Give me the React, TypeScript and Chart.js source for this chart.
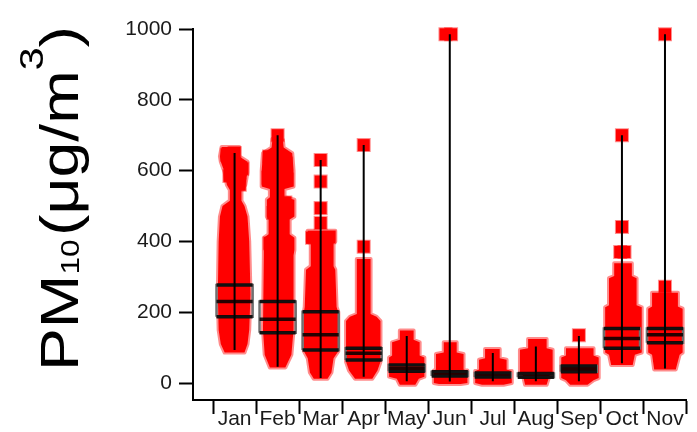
import { useEffect, useRef } from 'react';
import { Chart, registerables } from 'chart.js';

Chart.register(...registerables);

// ---- data -------------------------------------------------------------
const months = ['Jan', 'Feb', 'Mar', 'Apr', 'May', 'Jun', 'Jul', 'Aug', 'Sep', 'Oct', 'Nov'];
const yTicks = [0, 200, 400, 600, 800, 1000];

// whisker ends (µg/m³)
const whiskerLow = [93, 46, 14, 18, 5, 4, 5, 5, 5, 56, 41];
const whiskerHigh = [650, 700, 630, 672, 133, 985, 85, 103, 133, 700, 985];

// box statistics (µg/m³)
const q1 = [187, 142, 93, 65, 33, 20, 17, 16, 32, 98, 114];
const medians = [230, 180, 136, 84, 40, 25, 22, 21, 40, 126, 136];
const q3 = [277, 230, 201, 98, 51, 32, 28, 27, 48, 154, 154];

// outline of each month's jittered hourly points: [value, spread left, spread right]
// spreads are in category units (1 = one month slot)
const clouds: number[][][] = [
  [[667, 0.3, 0.11], [640, 0.34, 0.11], [625, 0.32, 0.3], [595, 0.23, 0.3], [560, 0.18, 0.25], [545, 0.11, 0.16], [515, 0.11, 0.16], [500, 0.28, 0.23], [470, 0.34, 0.3], [400, 0.37, 0.34], [250, 0.39, 0.37], [150, 0.37, 0.34], [110, 0.32, 0.3], [86, 0.23, 0.23]],
  [[690, 0.12, 0.12], [665, 0.14, 0.14], [649, 0.34, 0.34], [600, 0.37, 0.37], [555, 0.37, 0.37], [548, 0.18, 0.16], [525, 0.18, 0.16], [518, 0.25, 0.39], [470, 0.25, 0.39], [462, 0.21, 0.28], [420, 0.21, 0.28], [410, 0.32, 0.39], [376, 0.32, 0.39], [360, 0.32, 0.37], [150, 0.34, 0.37], [80, 0.3, 0.32], [44, 0.18, 0.18]],
  [[430, 0.3, 0.34], [400, 0.3, 0.34], [394, 0.23, 0.3], [330, 0.23, 0.3], [320, 0.34, 0.34], [215, 0.37, 0.37], [200, 0.39, 0.41], [90, 0.39, 0.41], [70, 0.3, 0.3], [30, 0.25, 0.25], [12, 0.16, 0.16]],
  [[350, 0.16, 0.16], [195, 0.16, 0.16], [187, 0.32, 0.3], [175, 0.41, 0.39], [60, 0.41, 0.39], [35, 0.34, 0.32], [12, 0.2, 0.2]],
  [[148, 0.16, 0.16], [122, 0.16, 0.16], [115, 0.34, 0.3], [78, 0.34, 0.3], [72, 0.41, 0.41], [18, 0.41, 0.41], [12, 0.23, 0.28], [-5, 0.16, 0.2]],
  [[115, 0.14, 0.16], [86, 0.14, 0.16], [82, 0.32, 0.32], [38, 0.32, 0.32], [35, 0.37, 0.41], [0, 0.37, 0.41], [-3, 0.25, 0.25]],
  [[96, 0.18, 0.16], [70, 0.18, 0.16], [66, 0.32, 0.32], [38, 0.32, 0.32], [34, 0.41, 0.44], [0, 0.41, 0.44], [-5, 0.25, 0.25]],
  [[124, 0.18, 0.25], [98, 0.18, 0.25], [94, 0.37, 0.39], [28, 0.37, 0.39], [22, 0.3, 0.32], [-5, 0.25, 0.25]],
  [[98, 0.3, 0.34], [78, 0.3, 0.34], [72, 0.41, 0.46], [14, 0.41, 0.46], [8, 0.3, 0.34], [-5, 0.2, 0.2]],
  [[338, 0.18, 0.23], [302, 0.18, 0.23], [296, 0.3, 0.34], [220, 0.3, 0.34], [214, 0.39, 0.46], [86, 0.39, 0.46], [80, 0.3, 0.3], [51, 0.25, 0.25]],
  [[255, 0.3, 0.3], [216, 0.3, 0.3], [210, 0.39, 0.41], [86, 0.39, 0.41], [80, 0.3, 0.34], [38, 0.25, 0.25]],
];

// isolated high readings per month: [jitter offset, value]
const outliers: number[][][] = [
  [[0, 650], [-0.18, 645], [0.18, 605], [-0.12, 585], [0.12, 560]],
  [[0, 700], [-0.2, 640], [0.2, 620], [-0.22, 580], [0.22, 575], [0.18, 510], [-0.1, 480], [0.2, 390], [-0.18, 395]],
  [[0, 630], [0, 569], [0, 494], [0, 452], [-0.2, 410], [0.2, 412]],
  [[0, 672], [0, 385]],
  [],
  [[-0.1, 985], [0.03, 985]],
  [],
  [],
  [[0, 135]],
  [[0, 700], [0, 441], [-0.04, 370], [0.06, 370]],
  [[0, 985], [0, 272]],
];

// ---- derived tables --------------------------------------------------------
const RED = '#ff0000';
const BOX_HALF = 0.42;
type P = { x: number; y: number | null };

const cloudSets = clouds.map((prof, i) => {
  const right: P[] = prof.map(([v, , r]) => ({ x: i + r, y: v }));
  const left: P[] = prof.slice().reverse().map(([v, l]) => ({ x: i - l, y: v }));
  const pts = [...right, ...left];
  pts.push(pts[0]);
  return {
    type: 'line' as const,
    data: pts,
    fill: 'shape',
    backgroundColor: RED,
    borderColor: 'rgba(255,0,0,0.45)',
    borderWidth: 4,
    borderJoinStyle: 'round',
    pointRadius: 0,
    order: 5,
  };
});

const outlierPts: P[] = [];
outliers.forEach((list, i) => list.forEach(([dx, v]) => outlierPts.push({ x: i + dx, y: v })));

const whiskerPts: P[] = [];
const boxPts: P[] = [];
const linePts: P[] = [];
months.forEach((_, i) => {
  whiskerPts.push({ x: i, y: whiskerLow[i] }, { x: i, y: whiskerHigh[i] }, { x: i, y: null });
  const a = i - BOX_HALF;
  const b = i + BOX_HALF;
  boxPts.push(
    { x: a, y: q1[i] }, { x: b, y: q1[i] }, { x: b, y: q3[i] }, { x: a, y: q3[i] }, { x: a, y: q1[i] },
    { x: a, y: null },
  );
  [q1[i], medians[i], q3[i]].forEach((v) => {
    linePts.push({ x: a, y: v }, { x: b, y: v }, { x: b, y: null });
  });
});

// rotated axis title with sub/superscripts
const yTitle = {
  id: 'yTitle',
  afterDraw(chart: Chart) {
    const ctx = chart.ctx;
    const fam = '"Liberation Sans", Arial, Helvetica, sans-serif';
    const parts = [
      { t: 'PM', size: 53, dy: 0, gap: 0 },
      { t: '10', size: 26, dy: 1, gap: 3 },
      { t: '(μg/m', size: 53, dy: 0, gap: 0 },
      { t: '3', size: 34, dy: -35, gap: 0 },
      { t: ')', size: 53, dy: 0, gap: 0 },
    ];
    ctx.save();
    let total = 0;
    const widths = parts.map((p) => {
      ctx.font = `${p.size}px ${fam}`;
      const w = ctx.measureText(p.t).width;
      total += w + p.gap;
      return w;
    });
    const startY = 371;
    const endY = 26;
    const sx = (startY - endY) / total;
    ctx.translate(78, startY);
    ctx.rotate(-Math.PI / 2);
    ctx.scale(sx, 1);
    ctx.fillStyle = '#000';
    ctx.textBaseline = 'alphabetic';
    ctx.textAlign = 'left';
    let x = 0;
    parts.forEach((p, k) => {
      ctx.font = `${p.size}px ${fam}`;
      ctx.fillText(p.t, x, p.dy);
      x += widths[k] + p.gap;
    });
    ctx.restore();
  },
};

export default function App() {
  const ref = useRef<HTMLCanvasElement>(null);
  useEffect(() => {
    const font = { family: '"Liberation Sans", Arial, Helvetica, sans-serif', size: 21 };
    const chart = new Chart(ref.current!, {
      type: 'line',
      data: {
        datasets: [
          ...cloudSets,
          {
            type: 'scatter',
            data: outlierPts,
            pointStyle: 'rect',
            pointRadius: 8.5,
            backgroundColor: RED,
            borderColor: 'rgba(255,0,0,0.45)',
            borderWidth: 2,
            clip: false,
            order: 4,
          },
          {
            type: 'line',
            data: boxPts,
            borderColor: '#707070',
            borderWidth: 2.5,
            pointRadius: 0,
            fill: false,
            order: 3,
          },
          {
            type: 'line',
            data: whiskerPts,
            borderColor: '#000',
            borderWidth: 2,
            pointRadius: 0,
            fill: false,
            clip: false,
            order: 2,
          },
          {
            type: 'line',
            data: linePts,
            borderColor: 'rgba(0,0,0,0.85)',
            borderWidth: 3.5,
            pointRadius: 0,
            fill: false,
            order: 1,
          },
        ] as any,
      },
      options: {
        animation: false,
        responsive: false,
        devicePixelRatio: 1,
        events: [],
        layout: { padding: { top: 29, right: 5, left: 0, bottom: 0 } },
        plugins: { legend: { display: false }, tooltip: { enabled: false } },
        scales: {
          x: {
            type: 'linear',
            min: -0.966,
            max: 10.5,
            afterBuildTicks: (s: any) => {
              const t = [];
              for (let k = -1; k <= 21; k++) t.push({ value: k / 2 });
              s.ticks = t;
            },
            afterFit: (s: any) => {
              s.height = 32;
            },
            ticks: {
              autoSkip: false,
              maxRotation: 0,
              minRotation: 0,
              padding: -7,
              color: '#1a1a1a',
              font,
              callback: (v: any) => (Number.isInteger(v) ? months[v] : ''),
            },
            grid: {
              drawOnChartArea: false,
              tickLength: 14,
              tickWidth: 2,
              tickColor: (c: any) => (Number.isInteger(c.tick?.value) ? 'rgba(0,0,0,0)' : '#000'),
            },
            border: { color: '#000', width: 2 },
          },
          y: {
            type: 'linear',
            min: -48,
            max: 1000,
            afterBuildTicks: (s: any) => {
              s.ticks = yTicks.map((v) => ({ value: v }));
            },
            afterFit: (s: any) => {
              s.width = 193;
            },
            ticks: { padding: 7, color: '#1a1a1a', font, callback: (v: any) => String(v) },
            grid: { drawOnChartArea: false, tickLength: 14, tickWidth: 2, tickColor: '#000' },
            border: { color: '#000', width: 2 },
          },
        },
      },
      plugins: [yTitle],
    } as any);
    return () => chart.destroy();
  }, []);
  return (
    <div style={{ position: 'fixed', left: 0, top: 0, width: 697, height: 432, background: '#fff' }}>
      <canvas ref={ref} width={697} height={432} style={{ width: 697, height: 432, display: 'block' }} />
    </div>
  );
}
